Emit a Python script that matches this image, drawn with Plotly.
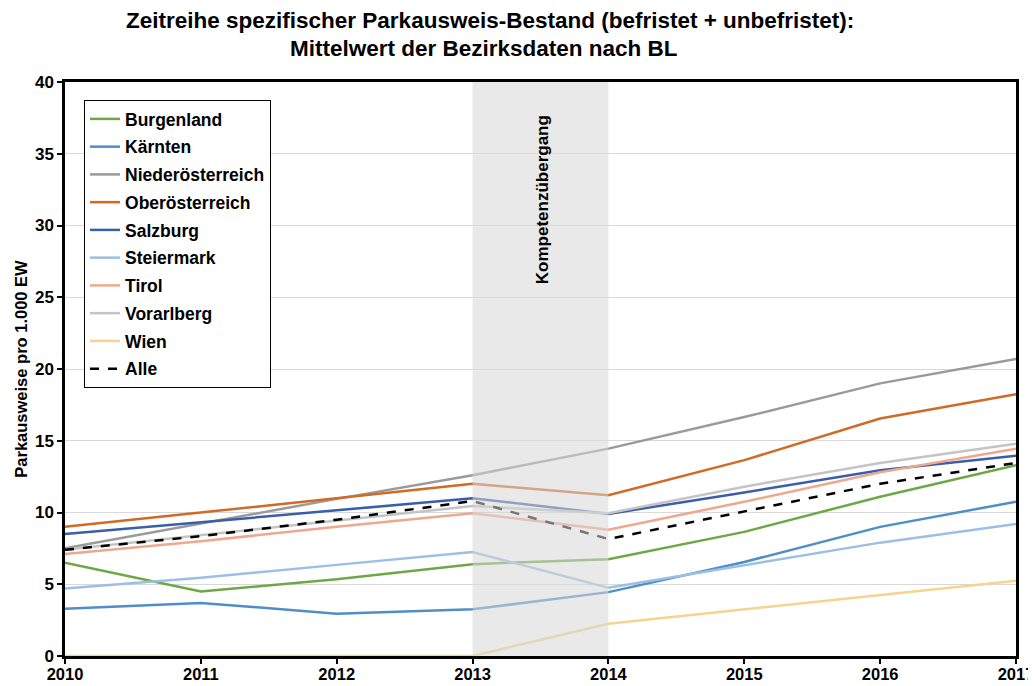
import plotly.graph_objects as go

years = [2010, 2011, 2012, 2013, 2014, 2015, 2016, 2017]

burgenland = [6.5, 4.5, 5.35, 6.4, 6.75, 8.65, 11.1, 13.3]
kaernten = [3.3, 3.7, 2.95, 3.25, 4.45, 6.55, 9.0, 10.75]
niederoesterreich = [7.5, 9.25, 10.95, 12.6, 14.45, 16.65, 19.0, 20.7]
oberoesterreich = [9.0, 10.0, 11.0, 12.0, 11.2, 13.65, 16.55, 18.25]
salzburg = [8.5, 9.3, 10.15, 11.0, 9.9, 11.4, 12.95, 13.95]
steiermark = [4.7, 5.45, 6.35, 7.25, 4.75, 6.35, 7.9, 9.2]
tirol = [7.1, 8.0, 9.0, 9.95, 8.8, 10.75, 12.8, 14.45]
vorarlberg = [7.4, 8.4, 9.4, 10.45, 9.95, 11.8, 13.45, 14.8]
wien = [0.0, 0.0, 0.0, 0.0, 2.25, 3.25, 4.3, 5.25]
alle = [7.4, 8.35, 9.5, 10.8, 8.15, 10.05, 12.0, 13.45]

series = [
    ("Burgenland", burgenland, "#6EA846", "solid"),
    ("Kärnten", kaernten, "#4F8FC8", "solid"),
    ("Niederösterreich", niederoesterreich, "#9A9A9A", "solid"),
    ("Oberösterreich", oberoesterreich, "#D06A24", "solid"),
    ("Salzburg", salzburg, "#3A5EAA", "solid"),
    ("Steiermark", steiermark, "#9DBFE3", "solid"),
    ("Tirol", tirol, "#EFA78E", "solid"),
    ("Vorarlberg", vorarlberg, "#C4C4C4", "solid"),
    ("Wien", wien, "#F7D48E", "solid"),
    ("Alle", alle, "#000000", "dash"),
]

FONT = "Liberation Sans"

fig = go.Figure()
for name, vals, col, dash in series:
    fig.add_trace(go.Scatter(
        x=years, y=vals, mode="lines", name=f"<b>{name}</b>", legendgroup=name,
        line=dict(color=col, width=2.5, dash=dash),
    ))

fig.add_shape(type="rect", xref="x", yref="y", x0=2013, x1=2014, y0=0, y1=40,
              fillcolor="rgba(215,215,215,0.55)", line=dict(width=0), layer="above")

fig.add_annotation(x=2013.51, y=37.85, xref="x", yref="y", text="<b>Kompetenzübergang</b>",
                   textangle=-90, showarrow=False, yanchor="top", xanchor="center",
                   font=dict(size=17, color="black", family=FONT))

axis_common = dict(showline=True, linecolor="black", linewidth=2.5, mirror=True,
                   ticks="outside", ticklen=5, tickwidth=2, tickcolor="black",
                   automargin=False)

fig.update_xaxes(range=[2010, 2017], tickmode="array", tickvals=years,
                 ticktext=[f"<b>{y}</b>" for y in years], showgrid=False,
                 ticklabelstandoff=-4,
                 tickfont=dict(size=16.5, color="black", family=FONT), **axis_common)
fig.update_yaxes(range=[0, 40], tickmode="array", tickvals=list(range(0, 41, 5)),
                 ticktext=[f"<b>{v}</b>" for v in range(0, 41, 5)],
                 showgrid=True, gridcolor="#D9D9D9", gridwidth=1, zeroline=False,
                 tickfont=dict(size=17, color="black", family=FONT),
                 title=dict(text="<b>Parkausweise pro 1.000 EW</b>", standoff=4,
                            font=dict(size=16.5, color="black", family=FONT)),
                 **axis_common)

# page has an 8px body margin; figure is sized/offset so the plot area lands as in the reference
title_font = dict(size=22.5, color="black", family=FONT)
fig.add_annotation(x=0.447, y=1.108, xref="paper", yref="paper",
                   text="<b>Zeitreihe spezifischer Parkausweis-Bestand (befristet + unbefristet):</b>",
                   showarrow=False, xanchor="center", yanchor="middle", font=title_font)
fig.add_annotation(x=0.4406, y=1.059, xref="paper", yref="paper",
                   text="<b>Mittelwert der Bezirksdaten nach BL</b>",
                   showarrow=False, xanchor="center", yanchor="middle", font=title_font)

fig.update_layout(
    width=1028, height=678,
    margin=dict(l=57, r=20, t=74, b=30),
    paper_bgcolor="white", plot_bgcolor="white",
    legend=dict(x=0.02, y=0.9686, xanchor="left", yanchor="top",
                bordercolor="black", borderwidth=1, bgcolor="white",
                tracegroupgap=2,
                font=dict(size=17.5, color="black", family=FONT)),
    showlegend=True,
)

fig.write_html("out.html")
